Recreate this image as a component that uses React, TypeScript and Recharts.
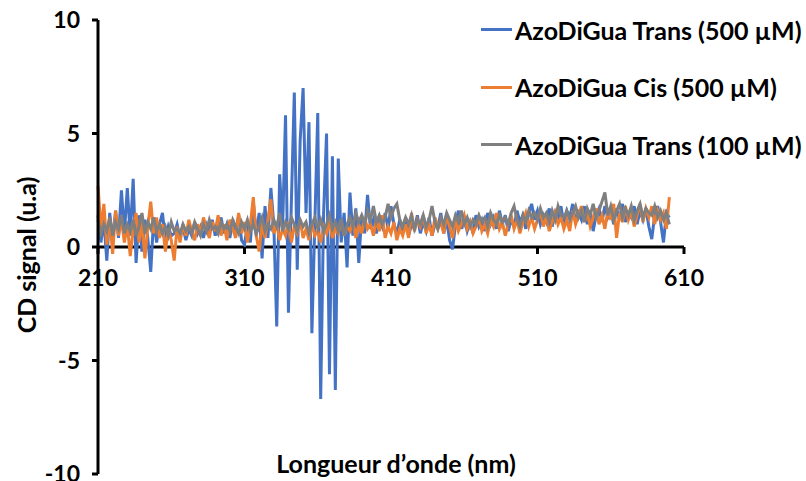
import { LineChart, Line, XAxis, YAxis, ReferenceLine, Label } from 'recharts';

// CD spectra, one value every 2 nm from 210 to 600 nm (10 values per row = 20 nm)
const START_NM = 210;
const STEP_NM = 2;

const TRANS_500 = [
  1.4, 0.2, 1.2, -0.6, 1.5, 0.3, 1.6, 0.4, 2.5, 0.6,
  2.6, 0.5, 3.0, -0.7, 1.4, -0.2, 1.2, 0.4, -1.1, 1.3,
  0.2, 1.0, 1.5, 0.3, 0.9, 0.5, 0.6, 1.0, 0.4, 0.9,
  0.3, 0.8, 0.5, 1.1, 0.6, 0.9, 0.4, 1.0, 0.7, 1.2,
  0.5, 0.9, 1.3, 0.6, 1.0, 0.4, 1.2, 0.7, 1.4, 0.3,
  0.1, 1.0, 0.2, 2.0, 0.5, 1.5, -0.5, 1.8, 0.4, 2.6,
  1.0, -3.5, 3.2, 0.8, 5.8, -2.9, 2.0, 6.8, -1.0, 4.7,
  7.0, 1.5, 5.5, -3.8, 1.0, 5.9, -6.7, 1.5, 5.0, -5.6,
  4.0, -6.3, 3.9, 0.2, 1.5, -0.9, 2.4, 0.5, 1.7, -0.7,
  1.4, 0.6, 2.3, 0.8, 1.2, 0.6, 1.3, 0.9, 1.5, 0.8,
  1.8, 1.0, 0.6, 1.2, 0.7, 1.3, 0.5, 1.0, 0.8, 1.4,
  0.6, 1.1, 0.7, 1.3, 0.5, 1.0, 0.9, 1.5, 0.6, 1.2,
  0.3, -0.1, 1.0, 1.6, 0.8, 1.3, 0.7, 1.1, 0.6, 1.4,
  0.9, 1.2, 0.7, 1.5, 1.0, 1.3, 0.8, 1.6, 1.0, 1.4,
  0.7, 1.2, 0.9, 1.6, 1.1, 1.4, 0.8, 1.5, 1.9, 1.2,
  1.6, 1.0, 1.4, 1.1, 1.7, 0.9, 1.5, 1.2, 1.8, 1.0,
  1.6, 1.3, 1.9, 1.1, 1.5, 1.2, 1.8, 1.0, 1.6, 0.7,
  1.4, 1.7, 1.1, 1.8, 1.3, 1.6, 1.0, 1.7, 1.2, 1.9,
  1.1, 1.5, 1.3, 1.8, 1.0, 1.6, 1.2, 1.7, 0.9, 0.35,
  1.4, 1.8, 1.1, 0.2, 1.5, 1.3,
];

const CIS_500 = [
  2.7, 0.8, 1.9, 0.1, 1.3, -0.3, 1.6, 0.5, 1.2, 0.2,
  1.0, -0.4, 0.8, 1.5, 0.2, 1.1, -0.5, 0.9, 2.0, 0.6,
  1.3, 0.4, 1.0, -0.2, 0.8, 0.3, -0.6, 0.9, 0.2, 1.0,
  0.5, 1.2, 0.7, 0.3, 1.0, 0.6, 1.3, 0.8, 0.4, 1.1,
  0.7, 1.4, 0.5, 1.0, 0.3, 1.2, 0.8, 0.4, 1.5, 0.6,
  1.1, 0.2, 1.0, 2.2, 0.5, -0.2, 1.0, 0.4, 1.2, 2.1,
  0.6, 1.0, 0.3, 0.8, 0.5, 1.1, 0.2, 0.9, 0.6, 1.2,
  0.4, 0.8, 0.3, 1.0, 0.5, 0.7, 0.2, 0.9, 0.6, 1.1,
  0.4, 0.8, 0.6, 1.2, 0.5, 0.9, 0.7, 1.1, 0.4, 1.0,
  0.6, 1.3, 0.8, 1.0, 0.5, 1.2, 0.7, 1.4, 0.4, 0.9,
  0.6, 1.1, 0.3, 0.8, 0.5, 1.0, 0.4, 1.5, 0.7, 1.2,
  0.9, 1.4, 0.6, 1.0, 0.5, 1.3, 0.8, 1.1, 0.6, 1.4,
  0.9, 0.4, 1.2, 0.7, 1.0, 1.4, 0.8, 1.1, 0.6, 0.9,
  1.3, 0.7, 1.0, 0.6, 1.2, 0.9, 1.5, 0.8, 1.1, 0.5,
  1.0, 1.4, 0.8, 1.2, 0.6, 1.1, 1.5, 0.9, 1.3, 0.8,
  1.2, 1.6, 0.9, 1.4, 0.7, 1.1, 1.5, 1.0, 1.3, 0.8,
  1.2, 0.7, 1.6, 1.0, 1.4, 1.8, 1.1, 1.5, 0.9, 1.3,
  1.7, 1.0, 1.4, 0.8, 1.6, 1.2, 1.9, 0.4, 1.5, 1.1,
  1.8, 1.2, 1.6, 0.9, 1.4, 1.9, 1.1, 1.7, 1.3, 1.8,
  1.0, 1.6, 1.2, 1.5, 0.8, 2.2,
];

const TRANS_100 = [
  1.2, 0.6, 1.0, 0.7, 1.3, 0.5, 1.1, 0.8, 1.4, 0.6,
  1.0, 0.7, 1.2, 0.5, 0.9, 1.5, 0.6, 1.1, 0.8, 1.3,
  0.7, 1.0, 0.6, 0.9, 0.5, 1.1, 0.7, 0.8, 0.6, 1.0,
  0.7, 0.9, 0.6, 1.1, 0.8, 0.5, 1.0, 0.7, 1.2, 0.8,
  0.9, 0.6, 1.1, 0.8, 1.0, 0.7, 1.2, 0.9, 0.6, 1.1,
  0.8, 1.2, 0.7, 1.0, 0.6, 0.9, 1.3, 0.7, 1.0, 0.8,
  1.2, 0.9, 1.5, 0.7, 1.1, 0.8, 1.3, 1.0, 0.7, 1.2,
  0.9, 1.1, 0.6, 1.0, 1.3, 0.8, 1.2, 0.7, 1.0, 1.4,
  0.8, 1.1, 0.7, 1.2, 0.5, 1.0, 1.3, 0.9, 1.5, 1.1,
  1.4, 1.0, 1.6, 1.2, 1.8, 1.1, 1.4, 1.0, 1.3, 1.9,
  1.3, 1.7, 1.9, 1.2, 0.9, 1.3, 1.0, 1.4, 0.8, 1.2,
  1.0, 1.4, 0.9, 1.2, 1.8, 1.1, 0.8, 1.3, 1.0, 1.5,
  1.2, 0.9, 1.4, 1.1, 1.6, 1.0, 1.3, 0.9, 1.2, 1.0,
  1.4, 1.1, 1.3, 0.9, 1.5, 1.2, 1.0, 1.4, 1.1, 1.3,
  1.0, 1.5, 1.8, 1.2, 0.9, 1.4, 1.1, 1.6, 1.3, 1.5,
  1.2, 1.7, 1.3, 1.5, 1.1, 1.6, 1.2, 1.8, 1.4, 1.3,
  1.6, 1.2, 1.5, 1.8, 1.3, 1.6, 1.1, 1.7, 1.4, 1.9,
  1.3, 1.6, 2.0, 2.4, 1.4, 1.8, 1.2, 1.6, 1.9, 1.3,
  1.7, 1.4, 1.8, 1.2, 1.6, 1.9, 1.3, 1.7, 1.5, 1.4,
  1.8, 1.3, 1.6, 1.2, 1.5, 1.0,
];

const X_TICKS = [210, 310, 410, 510, 610];
const Y_TICKS = [-10, -5, 0, 5, 10];

const SERIES = [
  { key: 'trans500', name: 'AzoDiGua Trans (500 µM)', color: '#4472C4' },
  { key: 'cis500', name: 'AzoDiGua Cis (500 µM)', color: '#ED7D31' },
  { key: 'trans100', name: 'AzoDiGua Trans (100 µM)', color: '#7F7F7F' },
];

const data = TRANS_500.map((v, i) => ({
  nm: START_NM + STEP_NM * i,
  trans500: v,
  cis500: CIS_500[i],
  trans100: TRANS_100[i],
}));

const FONT = "Lato, 'Open Sans', sans-serif";
const W = 806;
const H = 481;
const TOP = 20;
const BOTTOM = 7;
const PLOT_H = H - TOP - BOTTOM;
const ZERO_Y = TOP + PLOT_H * 10 / 20;

function XTick(props: any) {
  const { x, payload } = props;
  return (
    <g>
      <line x1={x} x2={x} y1={ZERO_Y} y2={ZERO_Y + 7} stroke="#000" strokeWidth={3} />
      <text x={x} y={ZERO_Y + 39} textAnchor="middle" fontFamily={FONT} fontWeight={700} fontSize={23} fill="#000">
        {payload.value}
      </text>
    </g>
  );
}

export default function App() {
  return (
    <div style={{ position: 'absolute', left: 0, top: 0, width: W, height: H, background: '#fff' }}>
      <LineChart width={W} height={H} data={data} margin={{ top: TOP, right: 122, left: 0, bottom: 0 }}>
        <XAxis
          dataKey="nm"
          type="number"
          domain={[210, 610]}
          ticks={X_TICKS}
          height={BOTTOM}
          axisLine={false}
          tickLine={false}
          tick={<XTick />}
          interval={0}
        >
          <Label
            value="Longueur d’onde (nm)"
            position="insideBottom"
            offset={8}
            dx={5}
            style={{ fontFamily: FONT, fontWeight: 700, fontSize: 25, fill: '#000' }}
          />
        </XAxis>
        <YAxis
          type="number"
          domain={[-10, 10]}
          ticks={Y_TICKS}
          width={98}
          axisLine={{ stroke: '#000', strokeWidth: 3 }}
          tickLine={{ stroke: '#000', strokeWidth: 3 }}
          tickSize={6}
          tickMargin={12}
          interval={0}
          tick={{ fontFamily: FONT, fontWeight: 700, fontSize: 23, fill: '#000' }}
        >
          <Label
            value="CD signal (u.a)"
            angle={-90}
            position="center"
            dx={-22}
            dy={8}
            style={{ fontFamily: FONT, fontWeight: 700, fontSize: 25, fill: '#000', textAnchor: 'middle' }}
          />
        </YAxis>
        <ReferenceLine y={0} stroke="#000" strokeWidth={3} />
        {SERIES.map((s) => (
          <Line
            key={s.key}
            dataKey={s.key}
            name={s.name}
            type="linear"
            stroke={s.color}
            strokeWidth={3}
            dot={false}
            activeDot={false}
            isAnimationActive={false}
          />
        ))}
      </LineChart>
      <div style={{ position: 'absolute', left: 481, top: 1, fontFamily: FONT, fontWeight: 700, fontSize: 25, color: '#000' }}>
        {SERIES.map((s) => (
          <div key={s.key} style={{ display: 'flex', alignItems: 'center', height: 57.5, whiteSpace: 'nowrap' }}>
            <span style={{ display: 'inline-block', width: 31, height: 3, background: s.color, marginRight: 3 }} />
            <span>{s.name}</span>
          </div>
        ))}
      </div>
    </div>
  );
}
